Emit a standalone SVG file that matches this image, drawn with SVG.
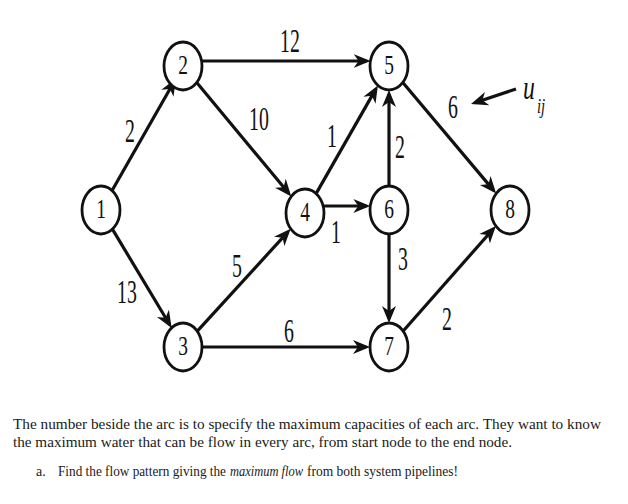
<svg xmlns="http://www.w3.org/2000/svg" width="628" height="504" viewBox="0 0 628 504">
<style>
.node ellipse{fill:#fff;stroke:#111;stroke-width:2.8}
.nl{font-family:"Liberation Serif",serif;font-size:27px;fill:#111;text-anchor:middle}
.el{font-family:"Liberation Serif",serif;font-size:33px;fill:#111;text-anchor:middle}
.edges line{stroke:#111;stroke-width:3.2;marker-end:url(#ah)}
.para{font-family:"Liberation Serif",serif;font-size:15.5px;fill:#1a1a1a}
.q{font-family:"Liberation Serif",serif;font-size:14px;fill:#1a1a1a}
</style>
<defs>
<marker id="ah" markerUnits="userSpaceOnUse" viewBox="0 0 18 16" refX="13" refY="8" markerWidth="18" markerHeight="16" orient="auto">
<path d="M0,1 L17,8 L0,15 L5,8 Z" fill="#111"/>
</marker>
</defs>
<rect width="628" height="504" fill="#fff"/>
<g id="connectors" class="edges">
<line x1="112.1" y1="190.5" x2="173.9" y2="82.0"/>
<line x1="112.4" y1="229.1" x2="169.6" y2="324.5"/>
<line x1="201.4" y1="61" x2="366.6" y2="61"/>
<line x1="196.7" y1="82.6" x2="288.7" y2="193.3"/>
<line x1="197.3" y1="331.2" x2="288.0" y2="231.8"/>
<line x1="202" y1="347" x2="366" y2="347"/>
<line x1="316.1" y1="193.6" x2="375.9" y2="88.9"/>
<line x1="323.7" y1="206" x2="366.3" y2="206"/>
<line x1="389" y1="186" x2="389" y2="94"/>
<line x1="389" y1="234" x2="389" y2="319"/>
<line x1="402.8" y1="82.5" x2="493.6" y2="190.4"/>
<line x1="403.2" y1="331" x2="493.2" y2="229"/>
<line x1="516" y1="89" x2="474.8" y2="102.7"/>
</g>
<g id="edge-labels">
<text class="el" transform="translate(290,52) scale(0.6,1)">12</text>
<text class="el" transform="translate(130,142) scale(0.6,1)">2</text>
<text class="el" transform="translate(259,130) scale(0.6,1)">10</text>
<text class="el" transform="translate(127,303) scale(0.6,1)">13</text>
<text class="el" transform="translate(237,277) scale(0.6,1)">5</text>
<text class="el" transform="translate(289,342) scale(0.6,1)">6</text>
<text class="el" transform="translate(332,147) scale(0.6,1)">1</text>
<text class="el" transform="translate(400,158) scale(0.6,1)">2</text>
<text class="el" transform="translate(453,118) scale(0.6,1)">6</text>
<text class="el" transform="translate(336,243) scale(0.6,1)">1</text>
<text class="el" transform="translate(403,270) scale(0.6,1)">3</text>
<text class="el" transform="translate(447,330) scale(0.6,1)">2</text>
<text font-family="Liberation Serif, serif" font-style="italic" font-size="34" fill="#111" transform="translate(523,99) scale(0.7,1)">u</text>
<text font-family="Liberation Serif, serif" font-style="italic" font-size="21" fill="#111" transform="translate(537,113) scale(0.7,1)">ij</text>
</g>
<g id="n1" class="node"><ellipse cx="101" cy="210" rx="19" ry="24"/><text class="nl" transform="translate(101,218) scale(0.72,1)">1</text></g>
<g id="n2" class="node"><ellipse cx="183" cy="66" rx="19" ry="24"/><text class="nl" transform="translate(183,74) scale(0.72,1)">2</text></g>
<g id="n3" class="node"><ellipse cx="183" cy="347" rx="19" ry="24"/><text class="nl" transform="translate(183,355) scale(0.72,1)">3</text></g>
<g id="n4" class="node"><ellipse cx="305" cy="213" rx="19" ry="24"/><text class="nl" transform="translate(305,221) scale(0.72,1)">4</text></g>
<g id="n5" class="node"><ellipse cx="389" cy="66" rx="19" ry="24"/><text class="nl" transform="translate(389,74) scale(0.72,1)">5</text></g>
<g id="n6" class="node"><ellipse cx="389" cy="210" rx="19" ry="24"/><text class="nl" transform="translate(389,218) scale(0.72,1)">6</text></g>
<g id="n7" class="node"><ellipse cx="389" cy="347" rx="19" ry="24"/><text class="nl" transform="translate(389,355) scale(0.72,1)">7</text></g>
<g id="n8" class="node"><ellipse cx="510" cy="210" rx="19" ry="24"/><text class="nl" transform="translate(510,218) scale(0.72,1)">8</text></g>
<g id="caption">
<text class="para" x="13" y="429" textLength="588" lengthAdjust="spacingAndGlyphs">The number beside the arc is to specify the maximum capacities of each arc. They want to know</text>
<text class="para" x="13" y="447" textLength="499" lengthAdjust="spacingAndGlyphs">the maximum water that can be flow in every arc, from start node to the end node.</text>
<text class="q" x="36" y="476">a.</text>
<text class="q" x="58" y="476" textLength="168" lengthAdjust="spacingAndGlyphs">Find the flow pattern giving the</text>
<text class="q" x="230" y="476" font-style="italic" textLength="73" lengthAdjust="spacingAndGlyphs">maximum flow</text>
<text class="q" x="307" y="476" textLength="151" lengthAdjust="spacingAndGlyphs">from both system pipelines!</text>
</g>
</svg>
